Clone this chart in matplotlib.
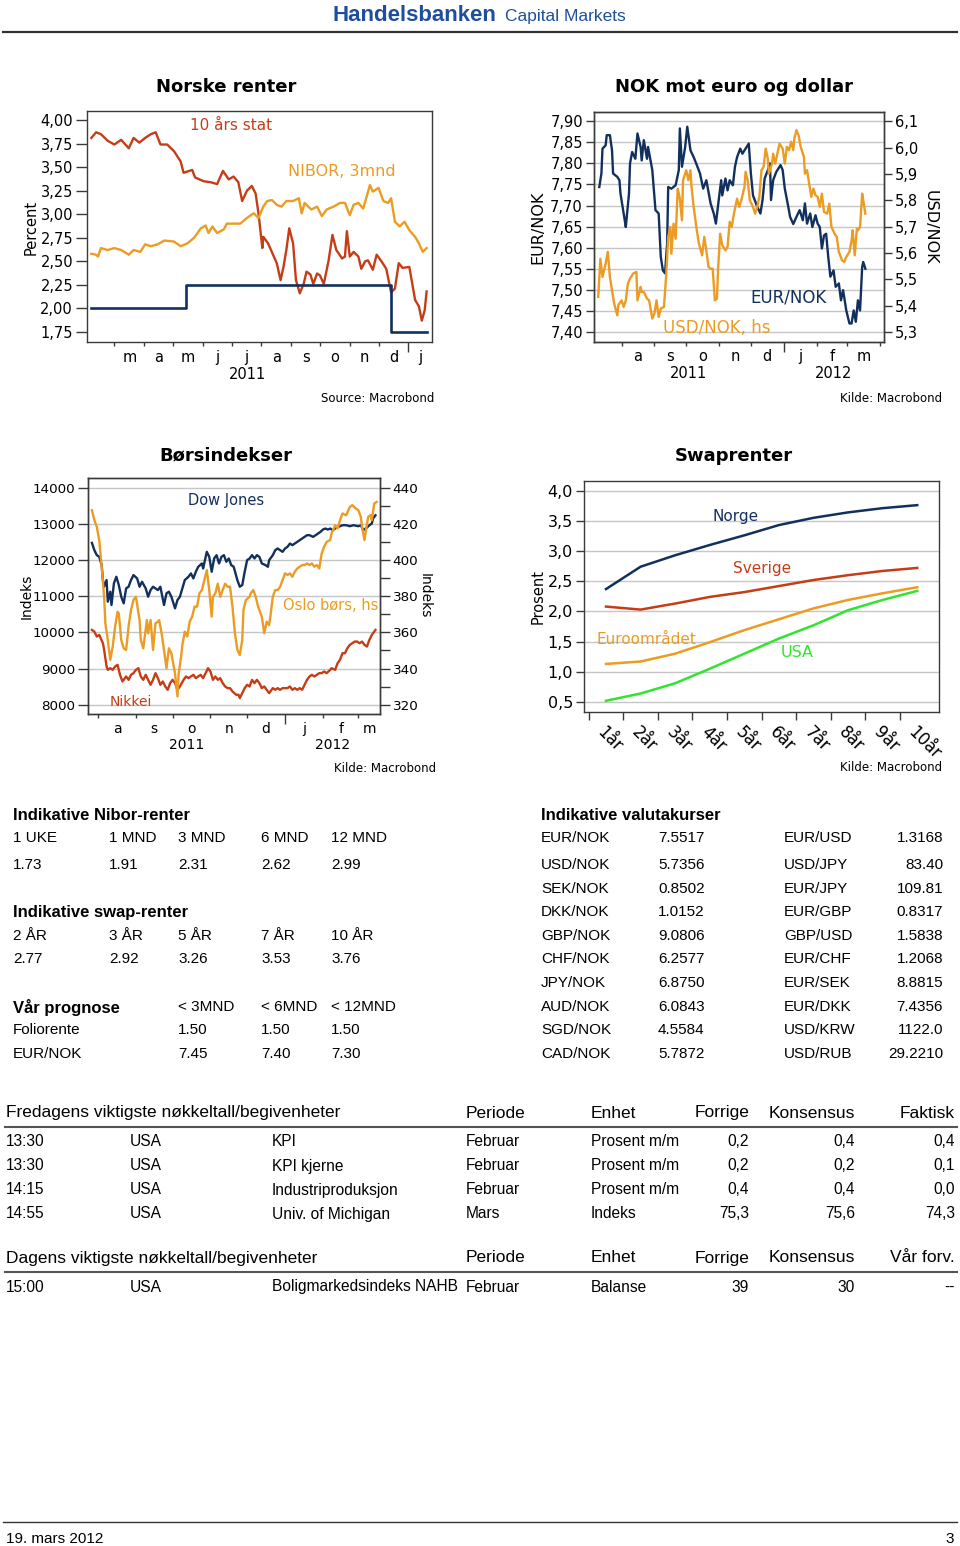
import numpy as np
import pandas as pd
import matplotlib
matplotlib.use("Agg")
import matplotlib.pyplot as plt
from matplotlib.lines import Line2D
from matplotlib.ticker import FixedLocator, FuncFormatter, MultipleLocator

W, H = 960, 1546
BASE = pd.Timestamp("2010-12-31")   # day 1 = 1 Jan 2011

NAVY = "#12305e"
RED = "#c53d17"
ORANGE = "#ec9b23"
GREEN = "#30e430"
GRID = "#c6c6c6"
SPINE = "#3a3a3a"
LOGO = "#1f4f9c"
TF = "Liberation Sans"

# ---------------- Norske renter (x = day number from 31.12.2010) ----------------
stat10_days = [36, 41, 46, 53, 60, 67, 75, 80, 86, 92, 98, 103, 108, 115, 122, 129, 132, 141, 144, 153,
               160, 167, 173, 179, 184, 189, 193, 198, 203, 207, 210, 214, 215, 220, 226, 229, 233, 236, 239, 242,
               246, 249, 253, 257, 260, 264, 267, 271, 274, 278, 283, 287, 291, 297, 300, 302, 305, 309, 314, 317,
               321, 324, 329, 333, 338, 343, 348, 352, 356, 360, 367, 373, 377, 380, 383, 385]
stat10 = [3.81, 3.87, 3.85, 3.78, 3.74, 3.79, 3.70, 3.81, 3.76, 3.81, 3.85, 3.87, 3.74, 3.74, 3.67, 3.56, 3.44, 3.47, 3.39, 3.35,
          3.34, 3.32, 3.46, 3.37, 3.40, 3.34, 3.14, 3.25, 3.30, 3.22, 3.01, 2.64, 2.76, 2.69, 2.55, 2.48, 2.30, 2.44, 2.62, 2.85,
          2.69, 2.30, 2.16, 2.26, 2.39, 2.36, 2.26, 2.37, 2.35, 2.26, 2.51, 2.78, 2.62, 2.53, 2.55, 2.82, 2.55, 2.60, 2.55, 2.42,
          2.50, 2.51, 2.41, 2.57, 2.50, 2.42, 2.17, 2.21, 2.48, 2.43, 2.44, 2.09, 2.02, 1.87, 1.98, 2.18]
nibor_days = [36, 41, 43, 46, 53, 60, 67, 75, 80, 87, 92, 98, 105, 112, 122, 129, 136, 143, 150, 155,
              158, 162, 167, 174, 177, 184, 191, 198, 205, 210, 215, 219, 224, 229, 234, 239, 246, 252, 255, 258,
              265, 271, 276, 281, 288, 295, 300, 305, 309, 314, 319, 326, 329, 335, 340, 345, 348, 352, 357, 362,
              367, 373, 377, 381, 385]
nibor = [2.58, 2.57, 2.55, 2.64, 2.62, 2.64, 2.62, 2.57, 2.62, 2.60, 2.68, 2.66, 2.68, 2.72, 2.71, 2.66, 2.69, 2.75, 2.85, 2.88,
         2.80, 2.87, 2.80, 2.84, 2.90, 2.90, 2.90, 2.96, 3.01, 2.96, 3.08, 3.14, 3.15, 3.10, 3.08, 3.14, 3.14, 3.17, 3.01, 3.12,
         3.05, 3.08, 2.98, 3.05, 3.08, 3.12, 3.12, 2.99, 3.10, 3.12, 3.06, 3.31, 3.24, 3.28, 3.14, 3.12, 3.17, 2.92, 2.87, 2.92,
         2.83, 2.76, 2.69, 2.60, 2.64]
folio_days = [36, 135, 348, 385]
folio = [2.00, 2.25, 1.75, 1.75]

# ---------------- NOK mot euro og dollar ----------------
eur_days = [192, 194, 195, 198, 199, 202, 204, 205, 209, 211, 212, 216, 217, 220, 221, 223, 226, 228, 231, 232,
            234, 237, 238, 242, 245, 248, 250, 252, 254, 256, 257, 260, 264, 267, 268, 270, 273, 275, 278, 281,
            284, 287, 290, 293, 297, 300, 302, 305, 307, 308, 311, 313, 315, 318, 320, 322, 325, 327, 330, 333,
            335, 337, 341, 344, 346, 348, 351, 353, 354, 356, 359, 363, 365, 367, 370, 372, 375, 378, 381, 384,
            386, 388, 391, 393, 396, 398, 400, 402, 404, 406, 408, 410, 413, 415, 418, 420, 422, 425, 428, 430,
            432, 434, 436, 438, 440, 441, 443]
eurnok = [7.744, 7.776, 7.835, 7.843, 7.867, 7.867, 7.831, 7.776, 7.768, 7.760, 7.728, 7.665, 7.649, 7.728, 7.800, 7.827, 7.811, 7.871, 7.839, 7.807,
          7.855, 7.811, 7.839, 7.784, 7.689, 7.681, 7.578, 7.546, 7.539, 7.610, 7.744, 7.740, 7.748, 7.784, 7.883, 7.792, 7.839, 7.887, 7.831, 7.815,
          7.796, 7.776, 7.740, 7.760, 7.705, 7.681, 7.657, 7.720, 7.760, 7.724, 7.764, 7.736, 7.760, 7.748, 7.792, 7.815, 7.835, 7.823, 7.835, 7.847,
          7.776, 7.724, 7.697, 7.681, 7.713, 7.764, 7.784, 7.800, 7.713, 7.760, 7.780, 7.796, 7.784, 7.740, 7.701, 7.673, 7.656, 7.673, 7.689, 7.665,
          7.705, 7.657, 7.681, 7.649, 7.677, 7.657, 7.649, 7.598, 7.629, 7.633, 7.578, 7.531, 7.546, 7.507, 7.515, 7.475, 7.499, 7.451, 7.420, 7.420,
          7.451, 7.424, 7.475, 7.451, 7.554, 7.566, 7.550]
usd_days = [191, 193, 195, 198, 200, 202, 204, 206, 209, 210, 213, 215, 217, 219, 221, 224, 227, 228, 231, 232,
            234, 237, 239, 242, 244, 246, 248, 250, 253, 255, 257, 259, 260, 262, 264, 266, 268, 270, 271, 274,
            276, 278, 279, 281, 284, 286, 289, 291, 293, 295, 297, 299, 301, 303, 304, 306, 308, 311, 313, 315,
            317, 319, 322, 324, 326, 329, 330, 332, 334, 337, 339, 341, 343, 345, 347, 349, 351, 352, 355, 356,
            358, 360, 362, 365, 367, 369, 371, 373, 375, 376, 378, 380, 382, 385, 386, 388, 390, 392, 394, 396,
            398, 400, 402, 404, 407, 409, 411, 414, 416, 418, 421, 423, 425, 428, 430, 431, 433, 435, 436, 438,
            440, 441, 443]
usdnok = [5.433, 5.578, 5.509, 5.560, 5.604, 5.509, 5.458, 5.408, 5.363, 5.403, 5.420, 5.395, 5.420, 5.484, 5.503, 5.522, 5.528, 5.420, 5.471, 5.452,
          5.452, 5.427, 5.420, 5.351, 5.370, 5.420, 5.357, 5.389, 5.395, 5.509, 5.661, 5.699, 5.597, 5.711, 5.654, 5.844, 5.806, 5.724, 5.876, 5.914,
          5.876, 5.914, 5.851, 5.775, 5.686, 5.635, 5.591, 5.661, 5.610, 5.547, 5.540, 5.540, 5.420, 5.427, 5.534, 5.673, 5.629, 5.610, 5.623, 5.718,
          5.699, 5.749, 5.806, 5.775, 5.800, 5.851, 5.908, 5.876, 5.800, 5.775, 5.749, 5.775, 5.813, 5.914, 5.927, 5.996, 5.958, 5.901, 5.939, 5.977,
          5.939, 5.977, 6.015, 5.996, 5.939, 6.003, 5.990, 6.022, 5.990, 6.034, 6.066, 6.047, 6.003, 5.965, 5.901, 5.914, 5.863, 5.813, 5.844, 5.819,
          5.813, 5.775, 5.825, 5.756, 5.749, 5.787, 5.699, 5.673, 5.661, 5.604, 5.572, 5.566, 5.585, 5.604, 5.648, 5.686, 5.591, 5.692, 5.686, 5.699,
          5.825, 5.800, 5.749]

# ---------------- Børsindekser ----------------
dow_days = [208, 210, 212, 214, 216, 217, 218, 220, 221, 223, 224, 226, 228, 230, 232, 234, 236, 238, 240, 242,
            245, 247, 249, 252, 254, 256, 258, 260, 262, 264, 267, 269, 271, 273, 276, 278, 280, 282, 284, 287,
            289, 291, 293, 295, 298, 299, 302, 304, 306, 308, 310, 312, 314, 316, 318, 320, 322, 324, 327, 329,
            331, 333, 335, 337, 339, 341, 343, 345, 347, 350, 352, 353, 356, 358, 360, 362, 364, 366, 368, 370,
            372, 374, 376, 378, 380, 382, 384, 386, 389, 391, 393, 395, 397, 399, 401, 403, 405, 408, 411, 413,
            416, 419, 422, 426, 428, 430, 433, 435, 437, 438, 440]
dow = [12474, 12272, 12134, 12088, 11859, 11445, 11261, 11445, 10848, 11124, 10756, 11353, 11537, 11307, 10986, 10802, 11215, 11261, 11445, 11583,
       11491, 11261, 11399, 11215, 10986, 11169, 11261, 11215, 11169, 11261, 10756, 11078, 11124, 10986, 10664, 10894, 10986, 11215, 11445, 11537,
       11629, 11491, 11675, 11813, 11905, 11767, 12226, 12088, 11675, 12042, 12134, 11905, 12088, 12134, 11951, 12042, 11859, 11813, 11445, 11261,
       11307, 11675, 11997, 12042, 12134, 12042, 12134, 12088, 11905, 11859, 11813, 11997, 12134, 12272, 12318, 12272, 12226, 12318, 12364, 12456,
       12410, 12456, 12502, 12548, 12594, 12640, 12686, 12686, 12640, 12686, 12732, 12778, 12842, 12870, 12842, 12870, 12824, 12897, 12934, 12962,
       12962, 12934, 12962, 12934, 12962, 12824, 12897, 12962, 13008, 13146, 13237]
oslo_days = [208, 210, 212, 214, 216, 218, 219, 221, 223, 225, 227, 229, 230, 232, 234, 236, 238, 240, 242, 244,
             247, 248, 250, 253, 254, 256, 258, 260, 262, 263, 265, 267, 269, 271, 273, 274, 276, 278, 279, 281,
             282, 284, 286, 288, 290, 292, 294, 296, 298, 300, 302, 304, 306, 307, 309, 311, 313, 315, 317, 319,
             321, 323, 325, 327, 329, 331, 332, 334, 337, 338, 340, 342, 344, 346, 347, 349, 351, 353, 354, 356,
             358, 360, 362, 364, 366, 368, 370, 372, 374, 376, 378, 380, 382, 384, 386, 388, 390, 392, 394, 396,
             398, 400, 403, 404, 407, 409, 411, 413, 416, 419, 421, 424, 426, 428, 429, 431, 432, 434, 436, 437,
             439, 441]
oslo = [427.5, 422.0, 418.3, 411.0, 396.3, 379.7, 365.0, 355.8, 344.8, 352.1, 363.2, 371.4, 370.5, 355.8, 351.2, 350.3, 363.2, 372.4, 377.9, 379.7,
        366.8, 355.8, 351.2, 366.8, 359.5, 366.8, 350.3, 365.0, 365.9, 366.8, 359.5, 350.3, 340.2, 351.2, 348.5, 344.8, 337.4, 324.6, 337.4, 346.6,
        353.1, 360.4, 357.7, 365.9, 368.7, 374.2, 374.2, 381.6, 383.4, 388.9, 394.4, 383.4, 368.7, 379.7, 381.6, 386.9, 379.7, 383.4, 386.9, 385.2,
        385.2, 374.2, 359.5, 350.3, 347.5, 355.8, 372.4, 377.9, 379.7, 381.6, 383.4, 379.7, 374.2, 370.5, 368.7, 359.5, 365.9, 364.0, 368.7, 379.7,
        383.4, 383.4, 385.2, 388.9, 392.6, 391.7, 392.6, 390.7, 393.5, 395.3, 396.3, 397.2, 397.2, 398.1, 397.2, 398.1, 396.3, 397.2, 395.3, 403.6,
        407.3, 410.0, 411.0, 414.6, 419.2, 417.4, 422.0, 425.7, 424.7, 429.3, 430.3, 428.4, 427.5, 423.8, 418.3, 411.0, 415.6, 423.8, 424.7, 422.0,
        431.2, 432.1]
nik_days = [208, 210, 212, 214, 217, 218, 220, 221, 223, 225, 227, 229, 231, 233, 236, 238, 240, 242, 244, 246,
            248, 250, 252, 254, 256, 258, 260, 262, 264, 266, 268, 270, 272, 274, 276, 278, 280, 283, 285, 287,
            289, 291, 293, 295, 297, 299, 301, 303, 305, 307, 309, 311, 313, 315, 317, 319, 321, 323, 326, 328,
            329, 331, 333, 335, 337, 339, 341, 343, 345, 347, 349, 352, 353, 356, 358, 360, 362, 364, 366, 368,
            370, 372, 374, 376, 378, 380, 382, 384, 386, 388, 390, 392, 394, 396, 398, 400, 403, 404, 407, 409,
            411, 413, 415, 417, 419, 421, 423, 425, 427, 429, 431, 433, 435, 437, 438, 440]
nikkei = [10067, 10021, 9883, 9929, 9699, 9516, 9056, 8964, 9010, 8964, 9056, 9102, 8826, 8642, 8780, 8688, 8826, 8872, 8964, 9010,
          8780, 8688, 8826, 8688, 8550, 8688, 8872, 8734, 8550, 8642, 8504, 8412, 8596, 8688, 8596, 8412, 8504, 8688, 8780, 8734,
          8780, 8826, 8734, 8780, 8826, 8734, 8872, 9010, 8918, 8688, 8780, 8688, 8734, 8596, 8504, 8458, 8458, 8366, 8275, 8275,
          8183, 8320, 8458, 8550, 8504, 8688, 8596, 8688, 8596, 8458, 8504, 8366, 8320, 8458, 8412, 8458, 8412, 8458, 8458, 8458,
          8504, 8412, 8458, 8412, 8458, 8412, 8550, 8688, 8780, 8826, 8780, 8826, 8872, 8872, 8918, 8872, 8964, 9010, 8964, 9148,
          9240, 9424, 9424, 9562, 9653, 9699, 9745, 9745, 9699, 9745, 9653, 9607, 9791, 9929, 9975, 10067]

# ---------------- Swaprenter ----------------
tenors = ["1år", "2år", "3år", "4år", "5år", "6år", "7år", "8år", "9år", "10år"]
swap_norge = [2.37, 2.74, 2.93, 3.10, 3.26, 3.43, 3.55, 3.64, 3.71, 3.76]
swap_sverige = [2.08, 2.03, 2.13, 2.24, 2.32, 2.42, 2.52, 2.60, 2.67, 2.72]
swap_euro = [1.13, 1.17, 1.30, 1.49, 1.69, 1.87, 2.05, 2.19, 2.30, 2.40]
swap_usa = [0.52, 0.64, 0.81, 1.05, 1.30, 1.55, 1.77, 2.02, 2.19, 2.34]

# ---------------- tabeller ----------------
nibor_tenors = ["1 UKE", "1 MND", "3 MND", "6 MND", "12 MND"]
nibor_rates = ["1.73", "1.91", "2.31", "2.62", "2.99"]
swap_tenors = ["2 ÅR", "3 ÅR", "5 ÅR", "7 ÅR", "10 ÅR"]
swap_rates = ["2.77", "2.92", "3.26", "3.53", "3.76"]
prog_horizons = ["< 3MND", "< 6MND", "< 12MND"]
prog_folio = ["1.50", "1.50", "1.50"]
prog_eurnok = ["7.45", "7.40", "7.30"]

fx_pairs_a = ["EUR/NOK", "USD/NOK", "SEK/NOK", "DKK/NOK", "GBP/NOK", "CHF/NOK", "JPY/NOK", "AUD/NOK", "SGD/NOK", "CAD/NOK"]
fx_rates_a = ["7.5517", "5.7356", "0.8502", "1.0152", "9.0806", "6.2577", "6.8750", "6.0843", "4.5584", "5.7872"]
fx_pairs_b = ["EUR/USD", "USD/JPY", "EUR/JPY", "EUR/GBP", "GBP/USD", "EUR/CHF", "EUR/SEK", "EUR/DKK", "USD/KRW", "USD/RUB"]
fx_rates_b = ["1.3168", "83.40", "109.81", "0.8317", "1.5838", "1.2068", "8.8815", "7.4356", "1122.0", "29.2210"]

ev_cols = ["Periode", "Enhet", "Forrige", "Konsensus"]
fri_time = ["13:30", "13:30", "14:15", "14:55"]
fri_country = ["USA", "USA", "USA", "USA"]
fri_event = ["KPI", "KPI kjerne", "Industriproduksjon", "Univ. of Michigan"]
fri_period = ["Februar", "Februar", "Februar", "Mars"]
fri_unit = ["Prosent m/m", "Prosent m/m", "Prosent m/m", "Indeks"]
fri_prev = ["0,2", "0,2", "0,4", "75,3"]
fri_cons = ["0,4", "0,2", "0,4", "75,6"]
fri_actual = ["0,4", "0,1", "0,0", "74,3"]
day_time = ["15:00"]
day_country = ["USA"]
day_event = ["Boligmarkedsindeks NAHB"]
day_period = ["Februar"]
day_unit = ["Balanse"]
day_prev = ["39"]
day_cons = ["30"]
day_ours = ["--"]

MONTHS = "jfmamjjasond"

fig = plt.figure(figsize=(W / 100, H / 100), dpi=100)
fig.patch.set_facecolor("white")


def px_axes(l, t, r, b):
    return fig.add_axes([l / W, 1 - b / H, (r - l) / W, (b - t) / H])


def ftext(x, y, s, **kw):
    kw.setdefault("va", "center")
    return fig.text(x / W, 1 - y / H, s, **kw)


def hline(x0, x1, y, lw=1.0, color="#333333"):
    fig.add_artist(Line2D([x0 / W, x1 / W], [1 - y / H] * 2, transform=fig.transFigure, lw=lw, color=color))


def comma(fmt):
    return FuncFormatter(lambda v, p: fmt.format(v).replace(".", ","))


def frame(ax):
    for s in ax.spines.values():
        s.set_color(SPINE)
        s.set_linewidth(1.0)
    ax.tick_params(which="both", direction="out", color=SPINE, width=1)


def date_axis(ax, x0, x1, first, last, years, lab_y, year_y, fs):
    ax.set_xlim(x0, x1)
    starts = pd.date_range("2011-01-01", "2012-06-01", freq="MS")
    sd = [(s - BASE).days for s in starts]
    major = [d for d, s in zip(sd, starts) if x0 + 3 < d < x1 - 3 and s.month != 1]
    yticks = [d for d, s in zip(sd, starts) if x0 < d < x1 and s.month == 1]
    ax.xaxis.set_major_locator(FixedLocator(major))
    ax.xaxis.set_minor_locator(FixedLocator(yticks))
    ax.tick_params(axis="x", which="major", length=3, labelbottom=False)
    ax.tick_params(axis="x", which="minor", length=7, labelbottom=False)
    tr = ax.get_xaxis_transform()
    for i, s in enumerate(starts[:-1]):
        if pd.Timestamp(first) <= s <= pd.Timestamp(last):
            a, b = max(sd[i], x0), min(sd[i + 1], x1)
            ax.text((a + b) / 2, lab_y, MONTHS[s.month - 1], transform=tr,
                    ha="center", va="center", fontsize=fs)
    for yr in years:
        a = max((pd.Timestamp(f"{yr}-01-01") - BASE).days, x0)
        b = min((pd.Timestamp(f"{yr + 1}-01-01") - BASE).days, x1)
        ax.text((a + b) / 2, year_y, str(yr), transform=tr, ha="center", va="center", fontsize=fs)


# ---------- logo / topp ----------
ftext(333, 21, "Handelsbanken", family=TF, fontweight="bold", fontsize=16, color=LOGO, va="baseline")
ftext(505, 21, "Capital Markets", family=TF, fontsize=12.5, color=LOGO, va="baseline")
hline(3, 957, 32, lw=1.6)

# ---------- Norske renter ----------
ax1 = px_axes(87, 111, 432, 342)
frame(ax1)
ax1.plot(stat10_days, stat10, color=RED, lw=1.7)
ax1.plot(nibor_days, nibor, color=ORANGE, lw=1.7)
ax1.step(folio_days, folio, where="post", color=NAVY, lw=1.9)
ax1.set_ylim(1.643, 4.096)
ax1.yaxis.set_major_locator(MultipleLocator(0.25))
ax1.yaxis.set_major_formatter(comma("{:.2f}"))
ax1.tick_params(axis="y", length=8, labelsize=10.5, pad=2)
date_axis(ax1, 31.5, 390.6, "2011-03-01", "2012-01-01", [2011], -0.065, -0.139, 10.5)
ftext(226, 87, "Norske renter", ha="center", fontsize=13, fontweight="bold")
ftext(31, 227, "Percent", rotation=90, ha="center", fontsize=10.5)
ftext(190, 125, "10 års stat", color=RED, fontsize=11)
ftext(288, 171, "NIBOR, 3mnd", color=ORANGE, fontsize=11.5)
ftext(434, 399, "Source: Macrobond", ha="right", fontsize=8.5)

# ---------- NOK mot euro og dollar ----------
ax2 = px_axes(594, 112, 884, 342)
ax2r = ax2.twinx()
frame(ax2)
frame(ax2r)
ax2.grid(axis="y", color=GRID, lw=1)
ax2.set_axisbelow(True)
ax2.plot(eur_days, eurnok, color=NAVY, lw=1.7)
ax2r.plot(usd_days, usdnok, color=ORANGE, lw=1.7)
ax2.set_ylim(7.376, 7.922)
ax2.yaxis.set_major_locator(MultipleLocator(0.05))
ax2.yaxis.set_major_formatter(comma("{:.2f}"))
ax2r.set_ylim(5.262, 6.135)
ax2r.yaxis.set_major_locator(MultipleLocator(0.1))
ax2r.yaxis.set_major_formatter(comma("{:.1f}"))
ax2.tick_params(axis="y", length=6, labelsize=10.5, pad=2)
ax2r.tick_params(axis="y", length=6, labelsize=10.5, pad=2)
date_axis(ax2, 187, 460.6, "2011-08-01", "2012-03-01", [2011, 2012], -0.065, -0.139, 10.5)
ftext(734, 87, "NOK mot euro og dollar", ha="center", fontsize=13, fontweight="bold")
ftext(538, 227, "EUR/NOK", rotation=90, ha="center", fontsize=11.5)
ftext(930, 227, "USD/NOK", rotation=270, ha="center", fontsize=11.5)
ftext(750, 298, "EUR/NOK", color=NAVY, fontsize=12)
ftext(663, 328, "USD/NOK, hs", color=ORANGE, fontsize=12)
ftext(942, 399, "Kilde: Macrobond", ha="right", fontsize=8.5)

# ---------- Børsindekser ----------
ax3 = px_axes(88, 478, 380, 714)
ax3r = ax3.twinx()
frame(ax3)
frame(ax3r)
ax3.grid(axis="y", color=GRID, lw=1)
ax3.set_axisbelow(True)
ax3.plot(dow_days, dow, color=NAVY, lw=1.7)
ax3.plot(nik_days, nikkei, color=RED, lw=1.7)
ax3r.plot(oslo_days, oslo, color=ORANGE, lw=1.7)
ax3.set_ylim(7743, 14267)
ax3.yaxis.set_major_locator(MultipleLocator(1000))
ax3r.set_ylim(314.9, 445.3)
ax3r.yaxis.set_major_locator(MultipleLocator(20))
ax3r.yaxis.set_minor_locator(MultipleLocator(10))
ax3.tick_params(axis="y", length=7, labelsize=9.7, pad=2)
ax3r.tick_params(axis="y", which="both", length=7, labelsize=9.7, pad=2)
date_axis(ax3, 204.8, 443.7, "2011-08-01", "2012-03-01", [2011, 2012], -0.064, -0.131, 10)
ftext(226, 455, "Børsindekser", ha="center", fontsize=13, fontweight="bold")
ftext(27, 596, "Indeks", rotation=90, ha="center", fontsize=10)
ftext(425, 596, "Indeks", rotation=270, ha="center", fontsize=10)
ftext(188, 500, "Dow Jones", color=NAVY, fontsize=10.5)
ftext(283, 606, "Oslo børs, hs", color=ORANGE, fontsize=10.5)
ftext(110, 702, "Nikkei", color=RED, fontsize=10)
ftext(436, 769, "Kilde: Macrobond", ha="right", fontsize=8.5)

# ---------- Swaprenter ----------
ax4 = px_axes(584, 481, 939, 712)
frame(ax4)
ax4.grid(axis="y", color=GRID, lw=1)
ax4.set_axisbelow(True)
xs = np.arange(len(tenors))
ax4.plot(xs, swap_norge, color=NAVY, lw=1.8)
ax4.plot(xs, swap_sverige, color=RED, lw=1.8)
ax4.plot(xs, swap_euro, color=ORANGE, lw=1.8)
ax4.plot(xs, swap_usa, color=GREEN, lw=1.8)
ax4.set_ylim(0.334, 4.16)
ax4.set_xlim(-0.636, len(tenors) - 0.37)
ax4.yaxis.set_major_locator(MultipleLocator(0.5))
ax4.yaxis.set_major_formatter(comma("{:.1f}"))
ax4.set_xticks(xs - 0.5)
ax4.set_xticklabels([])
ax4.set_xticks(xs, minor=True)
ax4.set_xticklabels(tenors, minor=True, rotation=-45, ha="left", va="top",
                    rotation_mode="anchor", fontsize=12)
ax4.tick_params(axis="x", which="major", length=6)
ax4.tick_params(axis="x", which="minor", length=0, pad=8)
ax4.tick_params(axis="y", length=6, labelsize=11.5, pad=2)
ftext(734, 456, "Swaprenter", ha="center", fontsize=13, fontweight="bold")
ftext(538, 596, "Prosent", rotation=90, ha="center", fontsize=10.5)
ftext(713, 517, "Norge", color=NAVY, fontsize=11)
ftext(733, 568, "Sverige", color=RED, fontsize=11)
ftext(597, 640, "Euroområdet", color=ORANGE, fontsize=11)
ftext(781, 652, "USA", color=GREEN, fontsize=11.5)
ftext(942, 768, "Kilde: Macrobond", ha="right", fontsize=8.5)

# ---------- venstre tabell ----------
cols = [13, 109, 178, 261, 331]
ftext(13, 815, "Indikative Nibor-renter", family=TF, fontweight="bold", fontsize=12)
for x, a, b in zip(cols, nibor_tenors, nibor_rates):
    ftext(x, 838, a, family=TF, fontsize=11)
    ftext(x, 865, b, family=TF, fontsize=11)
ftext(13, 912, "Indikative swap-renter", family=TF, fontweight="bold", fontsize=12)
for x, a, b in zip(cols, swap_tenors, swap_rates):
    ftext(x, 936, a, family=TF, fontsize=11)
    ftext(x, 959, b, family=TF, fontsize=11)
ftext(13, 1007, "Vår prognose", family=TF, fontweight="bold", fontsize=12)
ftext(13, 1030, "Foliorente", family=TF, fontsize=11)
ftext(13, 1054, "EUR/NOK", family=TF, fontsize=11)
for x, h, f, e in zip(cols[2:], prog_horizons, prog_folio, prog_eurnok):
    ftext(x, 1007, h, family=TF, fontsize=11)
    ftext(x, 1030, f, family=TF, fontsize=11)
    ftext(x, 1054, e, family=TF, fontsize=11)

# ---------- valutakurser ----------
ftext(541, 815, "Indikative valutakurser", family=TF, fontweight="bold", fontsize=12)
fx_rows = [838, 865, 889, 912, 936, 959, 983, 1007, 1030, 1054]
for y, pa, ra, pb, rb in zip(fx_rows, fx_pairs_a, fx_rates_a, fx_pairs_b, fx_rates_b):
    ftext(541, y, pa, family=TF, fontsize=11)
    ftext(658, y, ra, family=TF, fontsize=11)
    ftext(784, y, pb, family=TF, fontsize=11)
    ftext(943, y, rb, family=TF, fontsize=11, ha="right")


# ---------- nøkkeltall ----------
def event_block(y_head, title, last_col, rows, y_rows):
    ftext(6, y_head, title, family=TF, fontsize=12.5)
    ftext(466, y_head, ev_cols[0], family=TF, fontsize=12.5)
    ftext(591, y_head, ev_cols[1], family=TF, fontsize=12.5)
    ftext(749, y_head, ev_cols[2], family=TF, fontsize=12.5, ha="right")
    ftext(855, y_head, ev_cols[3], family=TF, fontsize=12.5, ha="right")
    ftext(955, y_head, last_col, family=TF, fontsize=12.5, ha="right")
    hline(5, 957, y_head + 14, lw=1.5, color="#555555")
    for y, r in zip(y_rows, rows):
        for x, s in zip([6, 130, 272, 466, 591], r[:5]):
            ftext(x, y, s, family=TF, fontsize=11.2)
        for x, s in zip([749, 855, 955], r[5:]):
            ftext(x, y, s, family=TF, fontsize=11.2, ha="right")


event_block(1113, "Fredagens viktigste nøkkeltall/begivenheter", "Faktisk",
            list(zip(fri_time, fri_country, fri_event, fri_period, fri_unit, fri_prev, fri_cons, fri_actual)),
            [1142, 1166, 1190, 1214])
event_block(1258, "Dagens viktigste nøkkeltall/begivenheter", "Vår forv.",
            list(zip(day_time, day_country, day_event, day_period, day_unit, day_prev, day_cons, day_ours)),
            [1287])

# ---------- bunn ----------
hline(3, 957, 1522, lw=1.0)
ftext(6, 1539, "19. mars 2012", family=TF, fontsize=11)
ftext(954, 1539, "3", family=TF, fontsize=11, ha="right")

fig.savefig("out.png", dpi=100, facecolor="white")
